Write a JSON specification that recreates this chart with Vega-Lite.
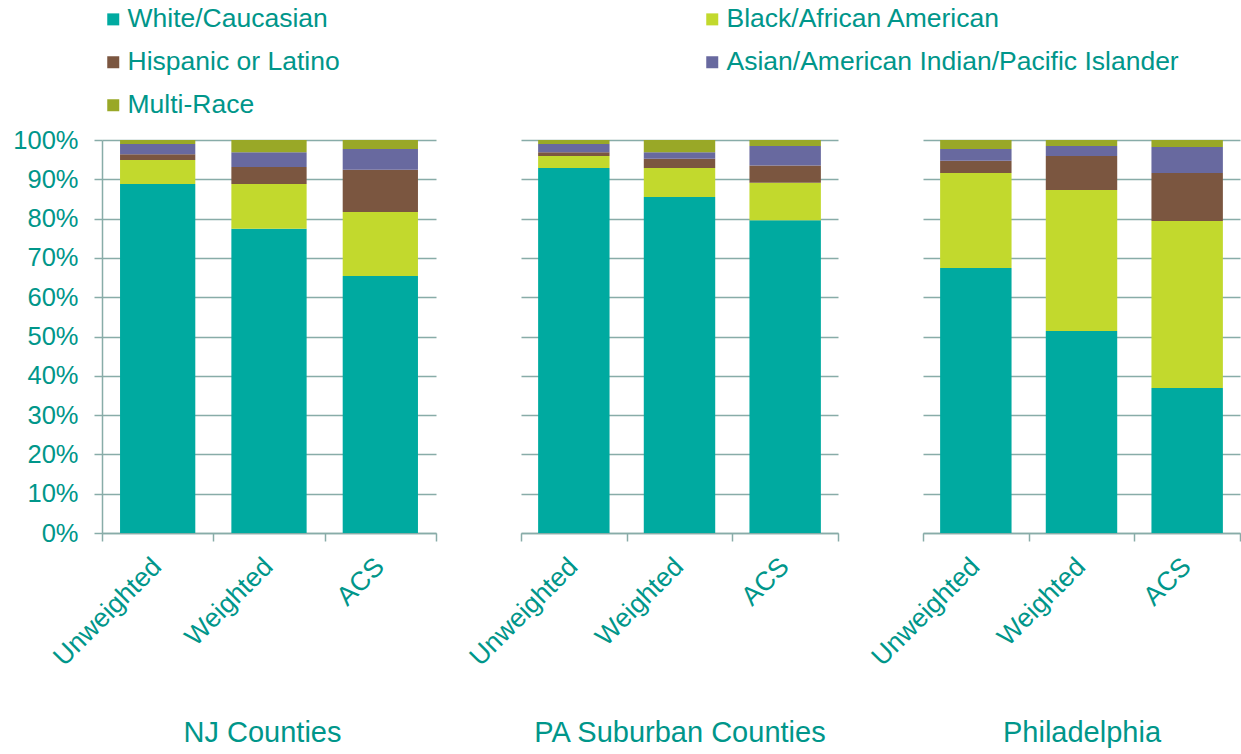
{
  "$schema": "https://vega.github.io/schema/vega-lite/v6.json",
  "background": "white",
  "padding": {"left": 12, "top": 6, "right": 0, "bottom": 0},
  "data": {"values": [
    {"region": "NJ Counties", "method": "Unweighted", "group": "White/Caucasian", "pct": 88.8},
    {"region": "NJ Counties", "method": "Unweighted", "group": "Black/African American", "pct": 6.1},
    {"region": "NJ Counties", "method": "Unweighted", "group": "Hispanic or Latino", "pct": 1.5},
    {"region": "NJ Counties", "method": "Unweighted", "group": "Asian/American Indian/Pacific Islander", "pct": 2.6},
    {"region": "NJ Counties", "method": "Unweighted", "group": "Multi-Race", "pct": 1.0},
    {"region": "NJ Counties", "method": "Weighted", "group": "White/Caucasian", "pct": 77.4},
    {"region": "NJ Counties", "method": "Weighted", "group": "Black/African American", "pct": 11.4},
    {"region": "NJ Counties", "method": "Weighted", "group": "Hispanic or Latino", "pct": 4.3},
    {"region": "NJ Counties", "method": "Weighted", "group": "Asian/American Indian/Pacific Islander", "pct": 3.8},
    {"region": "NJ Counties", "method": "Weighted", "group": "Multi-Race", "pct": 3.1},
    {"region": "NJ Counties", "method": "ACS", "group": "White/Caucasian", "pct": 65.4},
    {"region": "NJ Counties", "method": "ACS", "group": "Black/African American", "pct": 16.3},
    {"region": "NJ Counties", "method": "ACS", "group": "Hispanic or Latino", "pct": 10.7},
    {"region": "NJ Counties", "method": "ACS", "group": "Asian/American Indian/Pacific Islander", "pct": 5.3},
    {"region": "NJ Counties", "method": "ACS", "group": "Multi-Race", "pct": 2.3},
    {"region": "PA Suburban Counties", "method": "Unweighted", "group": "White/Caucasian", "pct": 92.9},
    {"region": "PA Suburban Counties", "method": "Unweighted", "group": "Black/African American", "pct": 3.0},
    {"region": "PA Suburban Counties", "method": "Unweighted", "group": "Hispanic or Latino", "pct": 1.0},
    {"region": "PA Suburban Counties", "method": "Unweighted", "group": "Asian/American Indian/Pacific Islander", "pct": 2.1},
    {"region": "PA Suburban Counties", "method": "Unweighted", "group": "Multi-Race", "pct": 1.0},
    {"region": "PA Suburban Counties", "method": "Weighted", "group": "White/Caucasian", "pct": 85.5},
    {"region": "PA Suburban Counties", "method": "Weighted", "group": "Black/African American", "pct": 7.4},
    {"region": "PA Suburban Counties", "method": "Weighted", "group": "Hispanic or Latino", "pct": 2.3},
    {"region": "PA Suburban Counties", "method": "Weighted", "group": "Asian/American Indian/Pacific Islander", "pct": 1.7},
    {"region": "PA Suburban Counties", "method": "Weighted", "group": "Multi-Race", "pct": 3.1},
    {"region": "PA Suburban Counties", "method": "ACS", "group": "White/Caucasian", "pct": 79.6},
    {"region": "PA Suburban Counties", "method": "ACS", "group": "Black/African American", "pct": 9.5},
    {"region": "PA Suburban Counties", "method": "ACS", "group": "Hispanic or Latino", "pct": 4.4},
    {"region": "PA Suburban Counties", "method": "ACS", "group": "Asian/American Indian/Pacific Islander", "pct": 5.0},
    {"region": "PA Suburban Counties", "method": "ACS", "group": "Multi-Race", "pct": 1.5},
    {"region": "Philadelphia", "method": "Unweighted", "group": "White/Caucasian", "pct": 67.4},
    {"region": "Philadelphia", "method": "Unweighted", "group": "Black/African American", "pct": 24.2},
    {"region": "Philadelphia", "method": "Unweighted", "group": "Hispanic or Latino", "pct": 3.1},
    {"region": "Philadelphia", "method": "Unweighted", "group": "Asian/American Indian/Pacific Islander", "pct": 3.0},
    {"region": "Philadelphia", "method": "Unweighted", "group": "Multi-Race", "pct": 2.3},
    {"region": "Philadelphia", "method": "Weighted", "group": "White/Caucasian", "pct": 51.4},
    {"region": "Philadelphia", "method": "Weighted", "group": "Black/African American", "pct": 35.9},
    {"region": "Philadelphia", "method": "Weighted", "group": "Hispanic or Latino", "pct": 8.6},
    {"region": "Philadelphia", "method": "Weighted", "group": "Asian/American Indian/Pacific Islander", "pct": 2.6},
    {"region": "Philadelphia", "method": "Weighted", "group": "Multi-Race", "pct": 1.5},
    {"region": "Philadelphia", "method": "ACS", "group": "White/Caucasian", "pct": 36.9},
    {"region": "Philadelphia", "method": "ACS", "group": "Black/African American", "pct": 42.5},
    {"region": "Philadelphia", "method": "ACS", "group": "Hispanic or Latino", "pct": 12.2},
    {"region": "Philadelphia", "method": "ACS", "group": "Asian/American Indian/Pacific Islander", "pct": 6.6},
    {"region": "Philadelphia", "method": "ACS", "group": "Multi-Race", "pct": 1.8}
  ]},
  "transform": [
    {"calculate": "indexof(['White/Caucasian', 'Black/African American', 'Hispanic or Latino', 'Asian/American Indian/Pacific Islander', 'Multi-Race'], datum.group)", "as": "stackOrder"}
  ],
  "config": {
    "view": {"stroke": null},
    "font": "Liberation Sans",
    "axis": {
      "labelColor": "#00968A",
      "labelFont": "Liberation Sans",
      "labelFontSize": 25.5,
      "titleFont": "Liberation Sans",
      "titleColor": "#00968A",
      "titleFontSize": 29,
      "titleFontWeight": "normal",
      "domainColor": "#88ACA8",
      "tickColor": "#88ACA8",
      "gridColor": "#88ACA8",
      "domainWidth": 1.5,
      "tickWidth": 1.5,
      "gridWidth": 1.5,
      "gridOpacity": 1,
      "domainOpacity": 1,
      "tickOpacity": 1
    }
  },
  "spacing": 85,
  "bounds": "flush",
  "hconcat": [
    {
      "width": 334, "height": 393,
      "transform": [{"filter": "datum.region === 'NJ Counties'"}],
      "mark": {"type": "bar", "width": {"band": 0.676}},
      "encoding": {
        "x": {"field": "method", "type": "nominal", "sort": ["Unweighted", "Weighted", "ACS"],
          "scale": {"paddingInner": 0, "paddingOuter": 0},
          "axis": {"title": "NJ Counties", "titleX": 160, "labelAngle": -45, "labelFontSize": 26.5, "labelOffset": -10, "tickBand": "extent", "tickSize": 8, "labelPadding": 12, "titlePadding": 48, "grid": false}},
        "y": {"field": "pct", "type": "quantitative", "stack": "zero", "scale": {"domain": [0, 100]},
          "axis": {"title": null, "values": [0,10,20,30,40,50,60,70,80,90,100], "labelExpr": "datum.value + '%'", "tickSize": 8, "labelPadding": 16, "grid": true, "domain": true}},
        "order": {"field": "stackOrder", "type": "quantitative", "sort": "ascending"},
        "color": {"field": "group", "type": "nominal",
          "sort": ["White/Caucasian", "Black/African American", "Hispanic or Latino", "Asian/American Indian/Pacific Islander", "Multi-Race"],
          "scale": {"domain": ["White/Caucasian", "Black/African American", "Hispanic or Latino", "Asian/American Indian/Pacific Islander", "Multi-Race"],
                    "range": ["#00AAA0", "#C2D92D", "#7B5640", "#68699F", "#99A827"]},
          "legend": {"orient": "none", "legendX": -2, "legendY": -134, "title": null, "columns": 2, "direction": "horizontal", "columnPadding": 359, "rowPadding": 16, "padding": 0,
            "symbolType": "square", "symbolSize": 144, "symbolStrokeWidth": 0, "labelFont": "Liberation Sans", "labelFontSize": 26.5, "labelColor": "#00968A", "labelOffset": 1, "labelLimit": 600}}
      }
    },
    {
      "width": 317, "height": 393,
      "transform": [{"filter": "datum.region === 'PA Suburban Counties'"}],
      "mark": {"type": "bar", "width": {"band": 0.676}},
      "encoding": {
        "x": {"field": "method", "type": "nominal", "sort": ["Unweighted", "Weighted", "ACS"],
          "scale": {"paddingInner": 0, "paddingOuter": 0},
          "axis": {"title": "PA Suburban Counties", "labelAngle": -45, "labelFontSize": 26.5, "labelOffset": -10, "tickBand": "extent", "tickSize": 8, "labelPadding": 12, "titlePadding": 48, "grid": false}},
        "y": {"field": "pct", "type": "quantitative", "stack": "zero", "scale": {"domain": [0, 100]},
          "axis": {"title": null, "values": [0,10,20,30,40,50,60,70,80,90,100], "labels": false, "ticks": false, "domain": false, "grid": true}},
        "order": {"field": "stackOrder", "type": "quantitative", "sort": "ascending"},
        "color": {"field": "group", "type": "nominal",
          "sort": ["White/Caucasian", "Black/African American", "Hispanic or Latino", "Asian/American Indian/Pacific Islander", "Multi-Race"]}
      }
    },
    {
      "width": 317, "height": 393,
      "transform": [{"filter": "datum.region === 'Philadelphia'"}],
      "mark": {"type": "bar", "width": {"band": 0.676}},
      "encoding": {
        "x": {"field": "method", "type": "nominal", "sort": ["Unweighted", "Weighted", "ACS"],
          "scale": {"paddingInner": 0, "paddingOuter": 0},
          "axis": {"title": "Philadelphia", "labelAngle": -45, "labelFontSize": 26.5, "labelOffset": -10, "tickBand": "extent", "tickSize": 8, "labelPadding": 12, "titlePadding": 48, "grid": false}},
        "y": {"field": "pct", "type": "quantitative", "stack": "zero", "scale": {"domain": [0, 100]},
          "axis": {"title": null, "values": [0,10,20,30,40,50,60,70,80,90,100], "labels": false, "ticks": false, "domain": false, "grid": true}},
        "order": {"field": "stackOrder", "type": "quantitative", "sort": "ascending"},
        "color": {"field": "group", "type": "nominal",
          "sort": ["White/Caucasian", "Black/African American", "Hispanic or Latino", "Asian/American Indian/Pacific Islander", "Multi-Race"]}
      }
    }
  ]
}
